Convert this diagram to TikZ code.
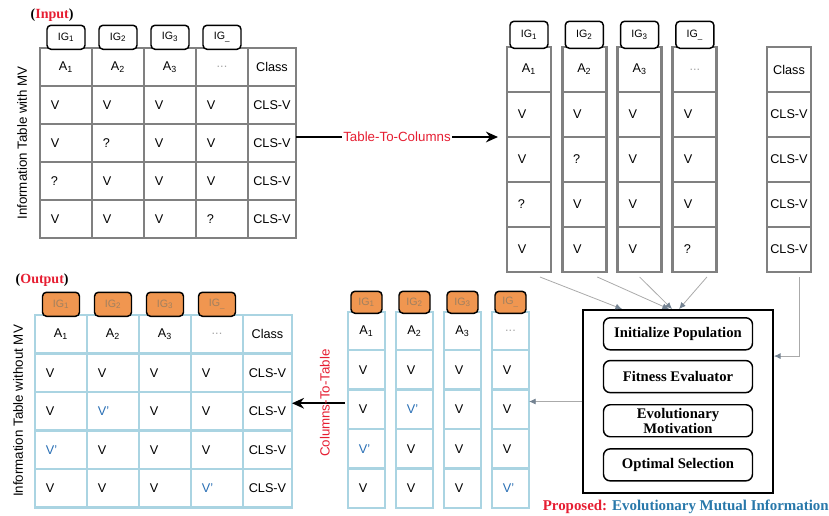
\documentclass[tikz,border=0pt]{standalone}
\usepackage{fontspec}
\setmainfont{Liberation Serif}
\setsansfont{Liberation Sans}
\usetikzlibrary{positioning, calc, arrows.meta}
\definecolor{ingray}{RGB}{128,128,128}
\definecolor{outblue}{RGB}{170,212,226}
\definecolor{igorange}{RGB}{240,150,80}
\definecolor{vblue}{RGB}{40,110,180}
\definecolor{labred}{RGB}{230,30,50}
\definecolor{emiblue}{RGB}{40,120,170}
\definecolor{linkgray}{RGB}{170,170,170}
\definecolor{tipgray}{RGB}{115,130,145}
\newcommand\px{0.75pt}
\newcommand\rc{3pt}
\newcommand\vp{\textcolor{vblue}{V'}}
\newcommand\gdots{\textcolor{ingray!70}{...}}
\newcommand\intab{{A\textsubscript{1},A\textsubscript{2},A\textsubscript{3},\gdots,Class},{V,V,V,V,CLS-V},{V,?,V,V,CLS-V},{?,V,V,V,CLS-V},{V,V,V,?,CLS-V}}
\newcommand\outtab{{A\textsubscript{1},A\textsubscript{2},A\textsubscript{3},\gdots,Class},{V,V,V,V,CLS-V},{V,\vp,V,V,CLS-V},{\vp,V,V,V,CLS-V},{V,V,V,\vp,CLS-V}}
% text of one cell: header row and class column centred, values to the left
\newcommand\celltxt[4]{\ifnum#2=0 \node (#1-t) [celltext] at (#1) {#4};\else\ifnum#3=4 \node (#1-t) [celltext] at (#1) {#4};\else\node (#1-t) [celltext, anchor=west] at ([xshift=8pt]#1.west) {#4};\fi\fi}

\tikzset{
  cellin/.style={draw=ingray, line width=2.2pt, anchor=north west, inner sep=0pt, outer sep=0pt},
  cellout/.style={draw=outblue, line width=2.2pt, anchor=north west, inner sep=0pt, outer sep=0pt},
  celltext/.style={font=\sffamily\fontsize{9.5}{11}\selectfont, inner sep=0pt},
  igbox/.style={draw=black, line width=1.1pt, rounded corners=\rc, fill=white, font=\sffamily\fontsize{8}{9}\selectfont, inner sep=0pt},
  igdone/.style={igbox, fill=igorange, text=brown!50!gray},
  stepbox/.style={draw=black, line width=1.1pt, rounded corners=5pt, minimum width=149*\px, minimum height=32*\px, align=center, inner sep=1pt, font=\bfseries\fontsize{11}{11.5}\selectfont},
  link/.style={draw=linkgray, line width=0.6pt, -{Latex[length=5pt, width=4.5pt, color=tipgray]}},
  bigarrow/.style={draw=black, line width=1.8pt, -{Stealth[length=9pt, width=8pt]}},
  sidelabel/.style={font=\sffamily\fontsize{10}{12}\selectfont, rotate=90, inner sep=1pt},
}

\begin{document}
\begin{tikzpicture}[x=\px, y=-\px]
    \useasboundingbox (0,0) rectangle (829,515);

    % input table
    \foreach \row [count=\r from 0] in \intab {
      \foreach \t [count=\c from 0] in \row {
        \pgfmathsetmacro\ww{\c==4 ? 48 : 52}
        \node (in-\r-\c) [cellin, minimum width=\ww*\px, minimum height=38*\px] at (40+52*\c, 48+38*\r) {};
        \celltxt{in-\r-\c}{\r}{\c}{\t}
      }
    }
    \foreach \s [count=\c from 0] in {1,2,3,\_}
      \node (igin-\c) [igbox, minimum width=38*\px, minimum height=24*\px, above=-1.5pt of in-0-\c.north] {IG\textsubscript{\s}};

    % table split into columns
    \foreach \row [count=\r from 0] in \intab {
      \foreach \t [count=\c from 0] in \row {
        \pgfmathsetmacro\xx{\c==4 ? 767 : 507+55.3*\c}
        \node (c-\r-\c) [cellin, minimum width=44*\px, minimum height=45*\px] at (\xx, 47+45*\r) {};
        \celltxt{c-\r-\c}{\r}{\c}{\t}
      }
    }
    \foreach \s [count=\c from 0] in {1,2,3,\_}
      \node (igc-\c) [igbox, minimum width=38*\px, minimum height=27*\px, above=-1.5pt of c-0-\c.north] {IG\textsubscript{\s}};

    % output table
    \foreach \row [count=\r from 0] in \outtab {
      \foreach \t [count=\c from 0] in \row {
        \pgfmathsetmacro\ww{\c==4 ? 49 : 52}
        \node (out-\r-\c) [cellout, minimum width=\ww*\px, minimum height=38.5*\px] at (35+52*\c, 315+38.5*\r) {};
        \celltxt{out-\r-\c}{\r}{\c}{\t}
      }
    }
    \foreach \s [count=\c from 0] in {1,2,3,\_}
      \node (igout-\c) [igdone, minimum width=37*\px, minimum height=24*\px, above=-1.5pt of out-0-\c.north] {IG\textsubscript{\s}};

    % imputed columns
    \foreach \row [count=\r from 0] in \outtab {
      \foreach \t [count=\c from 0] in \row {
        \ifnum\c<4
        \pgfmathsetmacro\yy{\r==0 ? 312 : 350+39.5*(\r-1)}
        \pgfmathsetmacro\hh{\r==0 ? 38 : 39.5}
        \node (b-\r-\c) [cellout, minimum width=37*\px, minimum height=\hh*\px] at (348+48*\c, \yy) {};
        \celltxt{b-\r-\c}{\r}{\c}{\t}
        \fi
      }
    }
    \foreach \s [count=\c from 0] in {1,2,3,\_}
      \node (igb-\c) [igdone, minimum width=31*\px, minimum height=22*\px, above=-1.5pt of b-0-\c.north] {IG\textsubscript{\s}};

    % proposed method
    \node (proc) [draw=black, line width=1.4pt, minimum width=190*\px, minimum height=183*\px] at (678,401.5) {};
    \node (init) [stepbox, below=6pt of proc.north] {Initialize Population};
    \node (fit) [stepbox, below=7pt of init] {Fitness Evaluator};
    \node (evo) [stepbox, below=8pt of fit] {Evolutionary\\Motivation};
    \node (opt) [stepbox, below=8pt of evo] {Optimal Selection};

    % labels
    \node (inlab) [anchor=west, font=\bfseries\fontsize{10.5}{12}\selectfont] at (26,15) {(\textcolor{labred}{Input})};
    \node (outlab) [anchor=west, font=\bfseries\fontsize{10.5}{12}\selectfont] at (11,280) {(\textcolor{labred}{Output})};
    \node (inside) [sidelabel] at (22,143) {Information Table with MV};
    \node (outside) [sidelabel] at (18,411) {Information Table without MV};
    \node (emi) [anchor=east, inner sep=0pt, font=\bfseries\fontsize{11.2}{12}\selectfont] at (829,507) {\textcolor{labred}{Proposed:} \textcolor{emiblue}{Evolutionary Mutual Information}};

    % connectors
    \draw[bigarrow] (in-2-4.east |- c-1-0.south) -- node[fill=white, text=labred, font=\sffamily\fontsize{10}{12}\selectfont, inner sep=1pt] (t2c) {Table-To-Columns} ($(c-1-0.south west)+(-9,0)$);
    \coordinate (c2ts) at ($(b-2-0.west)+(-3,-6)$);
    \draw[bigarrow] (c2ts) -- node[sidelabel, text=labred, pos=0.38] (c2t) {Columns-To-Table} (c2ts -| out-2-4.east);

    \foreach \c/\dx/\tx in {0/11/40, 1/13/87, 2/0/90, 3/12/97}
      \draw[link] ($(c-4-\c.south)+(\dx,5)$) -- ($(proc.north west)+(\tx,0)$);
    \draw[link] ($(c-4-4.south)+(10,5)$) |- ($(proc.north east)+(0,47)$);
    \draw[link] (proc.west) -- (proc.west -| b-2-3.east);

\end{tikzpicture}
\end{document}
